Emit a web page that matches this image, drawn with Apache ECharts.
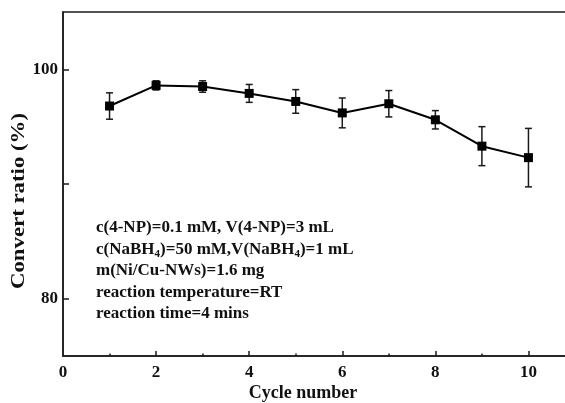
<!DOCTYPE html>
<html>
<head>
<meta charset="utf-8">
<script src="https://cdn.jsdelivr.net/npm/echarts@6/dist/echarts.min.js"></script>
<style>
  html, body { margin: 0; padding: 0; background: #fff; }
  #main { width: 565px; height: 403px; }
</style>
</head>
<body>
<div id="main"></div>
<script>
// data
const cycles = [1, 2, 3, 4, 5, 6, 7, 8, 9, 10];
const ratio = [96.8, 98.6, 98.5, 97.9, 97.2, 96.2, 97.0, 95.6, 93.3, 92.3];
const err = [1.15, 0.4, 0.5, 0.78, 1.03, 1.3, 1.15, 0.8, 1.7, 2.55];
const xMajor = [2, 4, 6, 8, 10];
const xMinor = [1, 3, 5, 7, 9];
const yTicks = [80, 90, 100];
const yLabels = [80, 100];
const notes = [
  '{n|c(4-NP)=0.1 mM, V(4-NP)=3 mL}',
  '{n|c(NaBH}{s|4}{n|)=50 mM,V(NaBH}{s|4}{n|)=1 mL}',
  '{n|m(Ni/Cu-NWs)=1.6 mg}',
  '{n|reaction temperature=RT}',
  '{n|reaction time=4 mins}'
];

const FONT = '"Liberation Serif", "Times New Roman", serif';
const INK = '#111';

const chart = echarts.init(document.getElementById('main'));

const noteY = [228, 249.5, 271, 292.5, 314];

chart.setOption({
  backgroundColor: '#fff',
  animation: false,
  grid: {
    left: 63, top: 12, right: -10, bottom: 47,
    show: true, borderColor: '#1a1a1a', borderWidth: 1.5,
    containLabel: false, outerBoundsMode: 'none'
  },
  xAxis: [
    {
      type: 'value', min: 0, max: 11, interval: 2,
      axisLine: { show: true, lineStyle: { color: '#1a1a1a', width: 1.5 } },
      axisTick: { show: true, inside: true, length: 5, customValues: xMajor, lineStyle: { color: '#1a1a1a', width: 1.5 } },
      axisLabel: { margin: 8, color: INK, fontSize: 17, fontWeight: 'bold', fontFamily: FONT },
      splitLine: { show: false }
    },
    {
      type: 'value', min: 0, max: 11, position: 'bottom',
      axisLine: { show: false },
      axisTick: { show: true, inside: true, length: 2.5, customValues: xMinor, lineStyle: { color: '#1a1a1a', width: 1.5 } },
      axisLabel: { show: false },
      splitLine: { show: false }
    }
  ],
  yAxis: {
    type: 'value', min: 75, max: 105,
    axisLine: { show: true, lineStyle: { color: '#1a1a1a', width: 1.5 } },
    axisTick: { show: true, inside: true, length: 6, customValues: yTicks, lineStyle: { color: '#1a1a1a', width: 1.5 } },
    axisLabel: { margin: 5, customValues: yLabels, color: INK, fontSize: 17, fontWeight: 'bold', fontFamily: FONT },
    splitLine: { show: false }
  },
  graphic: [
    {
      type: 'text', x: 303, y: 393,
      style: { text: 'Cycle number', fill: INK, font: 'bold 18px ' + FONT, textAlign: 'center', textVerticalAlign: 'middle' }
    },
    {
      type: 'text', x: 19, y: 201, rotation: Math.PI / 2, scaleX: 1.2,
      style: { text: 'Convert ratio (%)', fill: INK, font: 'bold 19px ' + FONT, textAlign: 'center', textVerticalAlign: 'middle' }
    }
  ].concat(notes.map((t, i) => ({
    type: 'text', x: 96, y: noteY[i],
    style: {
      text: t, textAlign: 'left', textVerticalAlign: 'middle',
      rich: {
        n: { fill: INK, fontSize: 17, fontWeight: 'bold', fontFamily: FONT },
        s: { fill: INK, fontSize: 11, fontWeight: 'bold', fontFamily: FONT, padding: [10, 0, 0, 0] }
      }
    }
  }))),
  series: [
    {
      type: 'custom',
      xAxisIndex: 0,
      data: cycles.map((c, i) => [c, ratio[i] - err[i], ratio[i] + err[i]]),
      encode: { x: 0, y: [1, 2] },
      renderItem: (params, api) => {
        const lo = api.coord([api.value(0), api.value(1)]);
        const hi = api.coord([api.value(0), api.value(2)]);
        const w = 3.5;
        const st = { stroke: '#1a1a1a', lineWidth: 1.5 };
        return {
          type: 'group',
          children: [
            { type: 'line', shape: { x1: lo[0], y1: lo[1], x2: hi[0], y2: hi[1] }, style: st },
            { type: 'line', shape: { x1: lo[0] - w, y1: lo[1], x2: lo[0] + w, y2: lo[1] }, style: st },
            { type: 'line', shape: { x1: hi[0] - w, y1: hi[1], x2: hi[0] + w, y2: hi[1] }, style: st }
          ]
        };
      },
      z: 1
    },
    {
      type: 'line',
      xAxisIndex: 0,
      data: cycles.map((c, i) => [c, ratio[i]]),
      symbol: 'rect',
      symbolSize: 9,
      itemStyle: { color: '#000' },
      lineStyle: { color: '#000', width: 2 },
      z: 3
    }
  ]
});
</script>
</body>
</html>
